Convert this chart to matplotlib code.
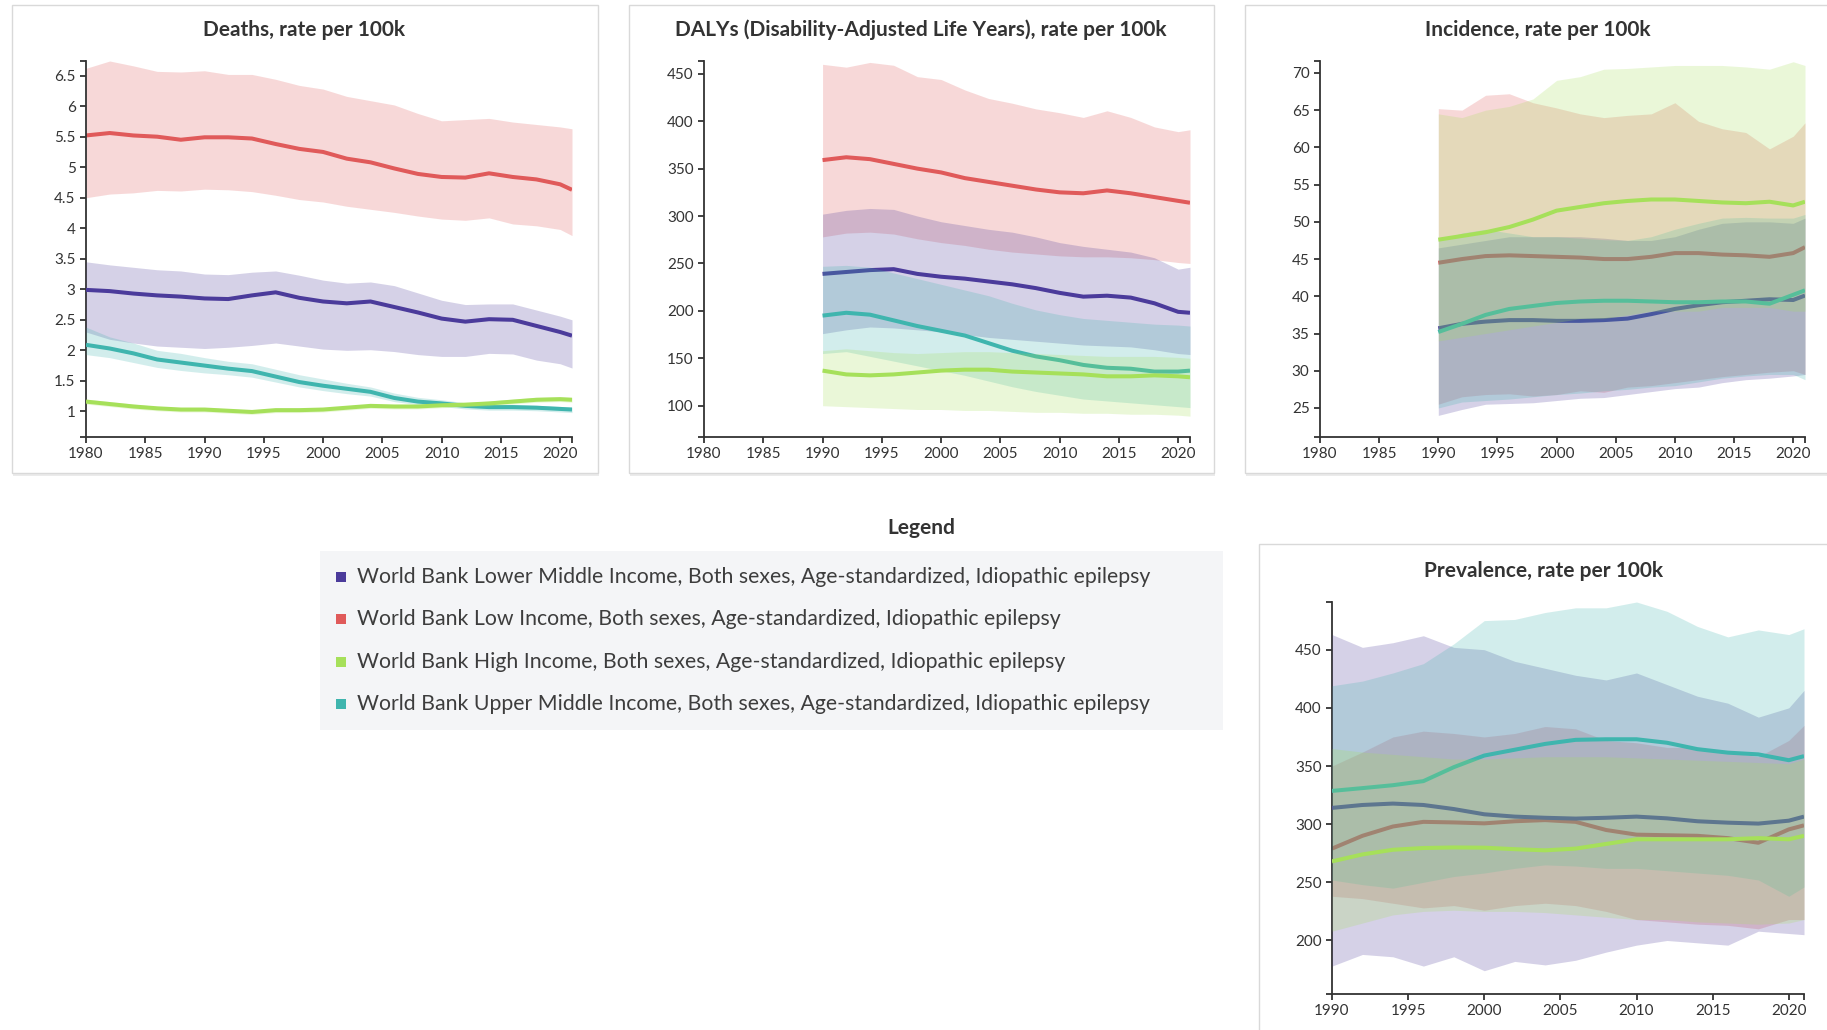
import numpy as np
import matplotlib.pyplot as plt
from matplotlib.patches import Rectangle

W, H = 1827, 1030

plt.rcParams['font.family'] = ['Lato', 'DejaVu Sans']

# ---- data ----
legend_labels = [
    'World Bank Lower Middle Income, Both sexes, Age-standardized, Idiopathic epilepsy',
    'World Bank Low Income, Both sexes, Age-standardized, Idiopathic epilepsy',
    'World Bank High Income, Both sexes, Age-standardized, Idiopathic epilepsy',
    'World Bank Upper Middle Income, Both sexes, Age-standardized, Idiopathic epilepsy',
]
legend_keys = ['lmi', 'li', 'hi', 'umi']
colors = {'lmi': '#4b3b9b', 'li': '#e05a5a', 'hi': '#a6e05a', 'umi': '#3fb5ae'}

years_deaths = [1980, 1982, 1984, 1986, 1988, 1990, 1992, 1994, 1996, 1998, 2000,
                2002, 2004, 2006, 2008, 2010, 2012, 2014, 2016, 2018, 2020, 2021]
years_gbd = [1990, 1992, 1994, 1996, 1998, 2000, 2002, 2004, 2006, 2008, 2010,
             2012, 2014, 2016, 2018, 2020, 2021]

# Deaths, rate per 100k
deaths_li = [5.52, 5.56, 5.52, 5.50, 5.45, 5.49, 5.49, 5.47, 5.38, 5.30, 5.25, 5.14, 5.08, 4.98, 4.89, 4.84, 4.83, 4.90, 4.84, 4.80, 4.72, 4.63]
deaths_li_hi = [6.62, 6.74, 6.66, 6.57, 6.56, 6.58, 6.52, 6.52, 6.44, 6.34, 6.28, 6.16, 6.09, 6.02, 5.88, 5.76, 5.78, 5.80, 5.74, 5.70, 5.66, 5.63]
deaths_li_lo = [4.50, 4.56, 4.58, 4.62, 4.61, 4.64, 4.63, 4.60, 4.54, 4.47, 4.43, 4.36, 4.31, 4.26, 4.20, 4.15, 4.13, 4.17, 4.07, 4.04, 3.98, 3.88]
deaths_lmi = [2.99, 2.97, 2.93, 2.90, 2.88, 2.85, 2.84, 2.90, 2.95, 2.86, 2.80, 2.77, 2.80, 2.71, 2.62, 2.52, 2.47, 2.51, 2.50, 2.40, 2.30, 2.24]
deaths_lmi_hi = [3.45, 3.40, 3.36, 3.32, 3.30, 3.25, 3.24, 3.28, 3.30, 3.23, 3.15, 3.10, 3.12, 3.06, 2.94, 2.82, 2.75, 2.76, 2.76, 2.66, 2.56, 2.50]
deaths_lmi_lo = [2.30, 2.18, 2.12, 2.07, 2.05, 2.03, 2.05, 2.08, 2.12, 2.07, 2.02, 2.00, 2.01, 1.98, 1.93, 1.90, 1.90, 1.95, 1.94, 1.84, 1.78, 1.71]
deaths_umi = [2.09, 2.03, 1.95, 1.85, 1.80, 1.75, 1.70, 1.66, 1.57, 1.48, 1.42, 1.37, 1.32, 1.22, 1.16, 1.13, 1.09, 1.07, 1.07, 1.06, 1.04, 1.03]
deaths_umi_hi = [2.38, 2.22, 2.12, 2.00, 1.95, 1.88, 1.82, 1.78, 1.69, 1.60, 1.53, 1.46, 1.40, 1.30, 1.23, 1.19, 1.14, 1.12, 1.11, 1.10, 1.08, 1.07]
deaths_umi_lo = [1.93, 1.88, 1.80, 1.72, 1.67, 1.63, 1.60, 1.56, 1.48, 1.40, 1.34, 1.29, 1.25, 1.16, 1.11, 1.08, 1.04, 1.02, 1.02, 1.01, 0.99, 0.98]
deaths_hi = [1.16, 1.12, 1.08, 1.05, 1.03, 1.03, 1.01, 0.99, 1.02, 1.02, 1.03, 1.06, 1.09, 1.08, 1.08, 1.10, 1.11, 1.13, 1.16, 1.19, 1.20, 1.19]
deaths_hi_hi = [1.20, 1.16, 1.12, 1.08, 1.06, 1.06, 1.04, 1.02, 1.05, 1.05, 1.06, 1.09, 1.12, 1.11, 1.11, 1.13, 1.14, 1.17, 1.20, 1.23, 1.24, 1.23]
deaths_hi_lo = [1.12, 1.08, 1.04, 1.01, 0.99, 0.99, 0.97, 0.95, 0.98, 0.98, 0.99, 1.02, 1.05, 1.04, 1.04, 1.06, 1.07, 1.09, 1.12, 1.15, 1.16, 1.15]

# DALYs, rate per 100k
dalys_li = [359, 362, 360, 355, 350, 346, 340, 336, 332, 328, 325, 324, 327, 324, 320, 316, 314]
dalys_li_hi = [460, 457, 462, 459, 447, 444, 433, 424, 419, 413, 409, 404, 411, 404, 394, 389, 391]
dalys_li_lo = [278, 282, 283, 281, 276, 272, 269, 265, 262, 260, 258, 257, 257, 256, 254, 251, 250]
dalys_lmi = [239, 241, 243, 244, 239, 236, 234, 231, 228, 224, 219, 215, 216, 214, 208, 199, 198]
dalys_lmi_hi = [302, 306, 308, 307, 300, 294, 290, 286, 283, 278, 272, 268, 265, 262, 256, 244, 246]
dalys_lmi_lo = [176, 180, 183, 182, 180, 178, 175, 172, 170, 168, 166, 164, 163, 162, 159, 155, 154]
dalys_umi = [195, 198, 196, 190, 184, 179, 174, 166, 158, 152, 148, 143, 140, 139, 136, 136, 137]
dalys_umi_hi = [247, 248, 246, 240, 234, 228, 222, 216, 208, 201, 196, 192, 190, 188, 186, 185, 184]
dalys_umi_lo = [155, 157, 152, 147, 142, 137, 132, 126, 120, 115, 111, 107, 105, 103, 101, 99, 98]
dalys_hi = [137, 133, 132, 133, 135, 137, 138, 138, 136, 135, 134, 133, 131, 131, 132, 131, 130]
dalys_hi_hi = [158, 160, 158, 156, 155, 156, 157, 157, 156, 155, 154, 153, 152, 152, 152, 151, 150]
dalys_hi_lo = [100, 99, 98, 97, 96, 96, 95, 95, 94, 93, 93, 92, 92, 91, 91, 90, 89]

# Incidence, rate per 100k
inc_li = [44.5, 45.0, 45.4, 45.5, 45.4, 45.3, 45.2, 45.0, 45.0, 45.3, 45.8, 45.8, 45.6, 45.5, 45.3, 45.8, 46.6]
inc_li_hi = [65.2, 65.0, 67.0, 67.2, 66.0, 65.3, 64.5, 64.0, 64.3, 64.5, 66.0, 63.5, 62.5, 62.0, 59.8, 61.5, 63.3]
inc_li_lo = [25.5, 26.5, 26.8, 26.9, 26.6, 26.8, 27.3, 27.1, 27.8, 28.0, 28.4, 28.8, 29.2, 29.5, 29.8, 30.0, 29.5]
inc_lmi = [35.7, 36.3, 36.6, 36.8, 36.8, 36.7, 36.7, 36.8, 37.0, 37.6, 38.3, 38.8, 39.2, 39.4, 39.6, 39.5, 40.1]
inc_lmi_hi = [46.5, 47.0, 47.5, 48.0, 48.0, 48.0, 48.0, 47.8, 47.5, 47.5, 48.0, 49.0, 49.8, 50.0, 50.0, 49.8, 50.5]
inc_lmi_lo = [24.0, 24.8, 25.5, 25.6, 25.7, 26.0, 26.3, 26.4, 26.8, 27.2, 27.6, 27.8, 28.4, 28.8, 29.0, 29.3, 29.5]
inc_umi = [35.2, 36.3, 37.5, 38.3, 38.7, 39.1, 39.3, 39.4, 39.4, 39.3, 39.2, 39.2, 39.3, 39.3, 39.0, 40.2, 40.8]
inc_umi_hi = [47.5, 48.5, 49.0, 48.5, 48.0, 48.0, 47.8, 47.6, 47.5, 48.0, 49.0, 49.8, 50.5, 50.6, 50.5, 50.5, 51.0]
inc_umi_lo = [25.0, 25.8, 26.0, 26.2, 26.5, 26.8, 27.0, 27.3, 27.5, 27.8, 28.0, 28.5, 29.0, 29.3, 29.5, 29.5, 28.8]
inc_hi = [47.6, 48.1, 48.6, 49.3, 50.3, 51.5, 52.0, 52.5, 52.8, 53.0, 53.0, 52.8, 52.6, 52.5, 52.7, 52.2, 52.7]
inc_hi_hi = [64.5, 64.0, 65.0, 65.5, 66.5, 69.0, 69.5, 70.5, 70.6, 70.8, 71.0, 71.0, 71.0, 70.8, 70.5, 71.5, 71.0]
inc_hi_lo = [34.0, 34.5, 35.0, 35.5, 36.0, 36.5, 37.0, 37.0, 37.5, 38.0, 38.0, 38.0, 38.5, 38.5, 38.5, 38.0, 38.0]

# Prevalence, rate per 100k
prev_li = [279, 290, 298, 302, 301.5, 300.7, 302.5, 303.5, 302, 295, 291, 290.5, 290, 288, 284, 295.5, 299]
prev_li_hi = [350, 362, 375, 380, 378, 375, 378, 384, 382, 372, 370, 366, 366, 362, 358, 372, 385]
prev_li_lo = [238, 236, 232, 228, 230, 226, 230, 232, 230, 225, 218, 216, 214, 213, 210, 218, 218]
prev_lmi = [314, 316.5, 317.7, 316.5, 313, 308.5, 306.5, 305.5, 304.8, 305.5, 306.5, 305, 302.5, 301.3, 300.5, 303, 306.5]
prev_lmi_hi = [463, 452, 456, 462, 452, 450, 440, 434, 428, 424, 430, 420, 410, 404, 392, 400, 415]
prev_lmi_lo = [178, 188, 186, 178, 186, 174, 182, 179, 183, 190, 196, 200, 198, 196, 208, 206, 205]
prev_umi = [328.6, 331, 333.5, 337, 349, 359, 364, 369, 372.5, 373, 373, 370, 364.5, 361.5, 360, 355, 358.5]
prev_umi_hi = [419, 423, 430, 438, 455, 475, 476, 482, 486, 486, 491, 483, 470, 461, 467, 463, 468]
prev_umi_lo = [252, 248, 245, 250, 255, 258, 262, 265, 264, 262, 262, 260, 258, 256, 252, 238, 246]
prev_hi = [268, 274, 278, 279.5, 280, 279.8, 278.5, 277.5, 279, 283, 287, 287, 287, 287, 288, 287, 290]
prev_hi_hi = [365, 362, 360, 358, 356, 356, 357, 358, 358, 358, 357, 356, 355, 354, 353, 352, 356]
prev_hi_lo = [208, 215, 222, 225, 226, 225, 225, 224, 222, 220, 218, 218, 216, 215, 214, 215, 218]

TEXT = '#333333'


def fig_rect(x0, y0, x1, y1):
    # pixel box (top-left origin) -> figure fraction
    return [x0 / W, 1 - y1 / H, (x1 - x0) / W, (y1 - y0) / H]


def draw_card(x0, y0, x1, y1):
    sx, sy, sw, sh = fig_rect(x0 + 1, y0 + 2, x1 + 1, y1 + 3)
    fig.add_artist(Rectangle((sx, sy), sw, sh, transform=fig.transFigure,
                             fc='#ebebeb', ec='none', zorder=-3))
    cx, cy, cw, ch = fig_rect(x0, y0, x1, y1)
    fig.add_artist(Rectangle((cx, cy), cw, ch, transform=fig.transFigure,
                             fc='white', ec='#d9d9d9', lw=1.0, zorder=-2))


def draw_panel(box, years, series, xlim, xticks, ylim, yticks, title, title_xy):
    ax = fig.add_axes(fig_rect(*box))
    ax.set_facecolor('none')
    # each band then its line, so later bands wash over earlier lines
    for i, (key, mean, lo, hi) in enumerate(series):
        ax.fill_between(years, lo, hi, color=colors[key], alpha=0.23, lw=0, zorder=1 + 2 * i)
        ax.plot(years, mean, color=colors[key], lw=2.9, zorder=2 + 2 * i,
                solid_joinstyle='round', solid_capstyle='butt')
    ax.set_xlim(*xlim)
    ax.set_ylim(*ylim)
    ax.set_xticks(xticks)
    ax.set_xticklabels([str(t) for t in xticks])
    ax.set_yticks(yticks)
    ax.set_yticklabels([f'{t:g}' for t in yticks])
    # outer ticks at the ends of the axis lines
    ax.set_xticks(list(xlim), minor=True)
    ax.set_yticks(list(ylim), minor=True)
    for s in ['top', 'right']:
        ax.spines[s].set_visible(False)
    for s in ['left', 'bottom']:
        ax.spines[s].set_color(TEXT)
        ax.spines[s].set_linewidth(1.3)
    ax.tick_params(which='both', direction='out', length=4.5, width=1.3, color=TEXT,
                   labelcolor=TEXT, labelsize=11, pad=3)
    fig.text(title_xy[0] / W, 1 - title_xy[1] / H, title, ha='center', va='center',
             fontsize=15, fontweight='bold', color=TEXT)
    return ax


fig = plt.figure(figsize=(W / 100, H / 100), dpi=100)
fig.patch.set_facecolor('white')

draw_card(12, 5, 598, 473)
draw_card(629, 5, 1214, 473)
draw_card(1245, 5, 1840, 473)
draw_card(1259, 544, 1840, 1045)

draw_panel((86, 61, 572, 437), years_deaths,
           [('li', deaths_li, deaths_li_lo, deaths_li_hi),
            ('lmi', deaths_lmi, deaths_lmi_lo, deaths_lmi_hi),
            ('umi', deaths_umi, deaths_umi_lo, deaths_umi_hi),
            ('hi', deaths_hi, deaths_hi_lo, deaths_hi_hi)],
           (1980, 2021), list(range(1980, 2021, 5)),
           (0.58, 6.74), [1, 1.5, 2, 2.5, 3, 3.5, 4, 4.5, 5, 5.5, 6, 6.5],
           'Deaths, rate per 100k', (304, 30))

draw_panel((704, 61, 1190, 437), years_gbd,
           [('li', dalys_li, dalys_li_lo, dalys_li_hi),
            ('lmi', dalys_lmi, dalys_lmi_lo, dalys_lmi_hi),
            ('umi', dalys_umi, dalys_umi_lo, dalys_umi_hi),
            ('hi', dalys_hi, dalys_hi_lo, dalys_hi_hi)],
           (1980, 2021), list(range(1980, 2021, 5)),
           (67, 463.5), list(range(100, 451, 50)),
           'DALYs (Disability-Adjusted Life Years), rate per 100k', (921, 30))

draw_panel((1320, 61, 1805, 437), years_gbd,
           [('li', inc_li, inc_li_lo, inc_li_hi),
            ('lmi', inc_lmi, inc_lmi_lo, inc_lmi_hi),
            ('umi', inc_umi, inc_umi_lo, inc_umi_hi),
            ('hi', inc_hi, inc_hi_lo, inc_hi_hi)],
           (1980, 2021), list(range(1980, 2021, 5)),
           (21.1, 71.6), list(range(25, 71, 5)),
           'Incidence, rate per 100k', (1538, 30))

draw_panel((1332, 602, 1804, 994), years_gbd,
           [('li', prev_li, prev_li_lo, prev_li_hi),
            ('lmi', prev_lmi, prev_lmi_lo, prev_lmi_hi),
            ('umi', prev_umi, prev_umi_lo, prev_umi_hi),
            ('hi', prev_hi, prev_hi_lo, prev_hi_hi)],
           (1990, 2021), list(range(1990, 2021, 5)),
           (154, 491), list(range(200, 451, 50)),
           'Prevalence, rate per 100k', (1544, 571))

# legend block
fig.text(921 / W, 1 - 528 / H, 'Legend', ha='center', va='center',
         fontsize=15, fontweight='bold', color=TEXT)
lx, ly, lw_, lh = fig_rect(320, 551, 1223, 730)
fig.add_artist(Rectangle((lx, ly), lw_, lh, transform=fig.transFigure,
                         fc='#f4f5f7', ec='none', zorder=-1))
entry_y = [577, 619, 662, 704]
for key, label, y in zip(legend_keys, legend_labels, entry_y):
    sq = fig_rect(336, y - 5, 346, y + 5)
    fig.add_artist(Rectangle((sq[0], sq[1]), sq[2], sq[3], transform=fig.transFigure,
                             fc=colors[key], ec='none', zorder=1))
    fig.text(357 / W, 1 - y / H, label, ha='left', va='center',
             fontsize=15.3, color='#3d3d3d')

fig.savefig('out.png', dpi=100)
